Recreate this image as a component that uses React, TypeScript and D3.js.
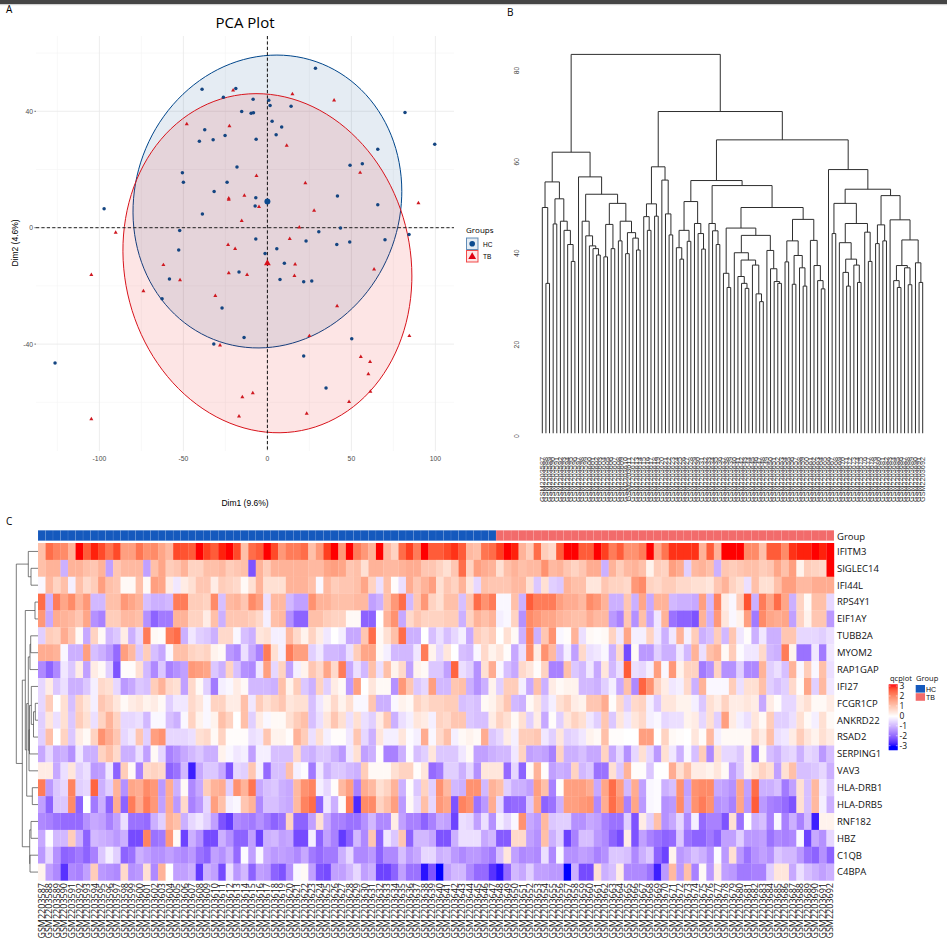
import * as d3 from 'd3';

// Panel A: PCA scores
const hcDim1 = [28.6,-38.9,-18.8,-26.2,-8.5,0.8,1.6,14.1,-15.3,-9.7,-8.3,2.8,8.5,-37.3,-25.2,-32.3,-40.5,-6.7,5.2,81.9,99.6,65.7,56.5,49.2,-18.1,-50.6,-50,-24,-31.7,-6.9,41.7,65.7,-7.3,-38.7,-97.2,-52.2,30.6,43.5,84.3,70,-6.9,23,49,41.3,5.6,-52.8,-1.4,10.1,-16.9,7.5,21.6,26.4,-58.3,-62.7,-27,-13.9,-31.9,50.2,21.6,34.9,-126.4];
const hcDim2 = [54.8,47.6,47.8,44.8,44.1,43.8,42,41.7,39.9,39.3,39.5,36.6,34.6,33.7,31.7,30.2,29.7,30.4,31.9,39.6,28.7,27,22,21.5,20.9,18.9,15.6,15.6,12.4,10.3,10.9,7.9,7.5,4.7,6.5,-1,-1.4,-0.1,-2.3,-4.1,-3.9,-4.6,-4.9,-5.8,-7.2,-7.7,-8.9,-12.2,-15.2,-17.8,-18.6,-18.3,-17.6,-24.4,-27.6,-37.7,-40,-38.2,-44.1,-55.1,-46.5];
const tbDim1 = [-20.4,14.9,39.7,-48,-22.6,11.5,55.2,-6.5,22.6,-13.7,-23,-23,-5,89.9,27.8,-15.3,19,-90.3,13.3,-23.4,-19.2,16.5,-61.9,63.5,-23,-12.1,-104.8,16.1,-52,-73.8,-31,41.5,25,84.5,-28.2,55.6,61.1,60.1,61.3,-8.7,-14.9,48.6,23.4,-16.9,-104.8];
const tbDim2 = [47.2,45.9,43.8,35.6,34.9,28.2,18.9,17.8,15.3,11,10.1,9.7,7.2,8.5,5.9,2.4,0.1,-1.7,-3.8,-5.9,-7.3,-12.6,-12.8,-14.3,-15.6,-16.2,-16.2,-16.5,-18,-21.8,-23.4,-26.9,-37.2,-37.2,-40.4,-44.4,-46.1,-50.3,-56.3,-56.8,-58.2,-59.8,-63.9,-64.8,-65.8];
const centroidHC = [0, 9];
const centroidTB = [0, -12.2];
// ellipse axes: [dim1 radius, dim2 shear, dim2 radius]
const ellipseHC = [80, 3.5, 50.2];
const ellipseTB = [86, -4.4, 58.1];
const pcaXTicks = [-100, -50, 0, 50, 100];
const pcaXMinor = [-125, -75, -25, 25, 75];
const pcaYTicks = [40, 0, -40];
const pcaYMinor = [60, 20, -20, -60];

// Panel B: sample tree, [height, left, right], L is a leaf
const L = null;
const treeA = [55.6, [50, L, [33.4, L, L]], [51.9, [46.4, L, L], [47, L, [45, L, [41.9, L, [38.2, L, L]]]]]];
const treeB = [56.7, L, [52.9, [47, L, [43.8, L, [41.6, L, [41, L, [39.6, L, L]]]]],
  [50.9, [46.3, [39.2, L, L], [41, L, L]], [47, [42.7, L, L], [44.5, [39.9, L, L], [43.3, L, [40.7, L, L]]]]]]];
const treeC = [58.9, [50.8, [48, L, [45, L, L]], [48.1, L, L]], [56, L, [48.6, L, [44, L, L]]]];
const treeD = [55.9,
  [51.3, [45, [41.2, L, [38.7, L, L]], [42.6, L, L]], [46.5, L, [44.3, L, [40.9, L, L]]]],
  [54.8, [46.5, L, [44.9, L, [41.9, L, L]]],
    [50,
      [45.5, [35.6, L, [32.5, L, L]],
        [43.9, [40.1, L, [38.5, [34.9, L, [33.4, L, [32.3, L, L]]], [37.4, L, [31.1, L, [29.4, L, L]]]]],
          [40.6, L, [36.6, L, [33.8, L, [33.4, L, L]]]]]],
      [47.4, [42.7, [38.1, L, L], [39.5, [33.2, L, L], [36.8, L, [32.8, L, L]]]],
        [42.8, L, [37.3, L, [34, L, [32.2, L, L]]]]]]]];
const treeE = [58.3, L, [54,
  [50.9, [44.3, L, L], [46.5, [42.3, L, [38.7, [35.8, L, [32.8, L, L]], [37.4, L, [33.6, L, L]]]], [44.6, L, [38.2, L, L]]]],
  [52.6, [46.2, [42.1, L, L], [42.7, L, L]],
    [47.3, L, [42.9, [37.3, [34, L, [32.5, L, L]], [36.8, L, [33.1, L, L]]], [37.9, L, [33.6, L, L]]]]]]];
const sampleTree = [83.5, [62.1, treeA, treeB], [71, treeC, [64.8, treeD, treeE]]];
const treeTicks = [0, 20, 40, 60, 80];

// Panel C: heatmap
const genes = ['IFITM3','SIGLEC14','IFI44L','RPS4Y1','EIF1AY','TUBB2A','MYOM2','RAP1GAP','IFI27','FCGR1CP','ANKRD22','RSAD2','SERPING1','VAV3','HLA-DRB1','HLA-DRB5','RNF182','HBZ','C1QB','C4BPA'];
const samples = d3.range(2203587, 2203693).map((n) => `GSM${n}`);
const hcCount = 61;

const ifitm3 = [1,2.2,1.9,1.8,1.2,3,2.4,2.9,2.6,2.1, 2.6,1.5,1.5,2.1,1.7,1.8,1.4,1.1,2.6,2.5, 2.4,3,2.7,2.4,2.9,3,2.6,1,2.2,2.4, 3,2.6,1.6,2,2,2.2,1,1.6,2.7,3,1.6, 3,2,1.6,1.2,3,1.1,.7,2.2,2.7,2, 3,2.4,2.4,2.6,2.8,2.4,1.1,1,2.1,2.2, 2.7,3,2.9,1.2,.8,2.2,.8,.6,2.4,3, 3,2.4,2.4,3,2.7,2,2.4,1.7,1.7, 2,3,1.4,2.1,2.8,2.8,2.8,2.8,1.2,2.4, 1.2,3,3,3,1.8,1.8,1,2.4,2.4,1.8, 2.8,2.9,2.9,3,2.9,3];
const siglec14 = [1,1.2,1.2,-1,1.2,1.2,1,.9,1.2,-1.2, .9,1.1,1.1,1.1,-1.2,1,1.4,.8,.9,1.2, .7,.7,1,1,1.1,.8,.9,1,-2.2,1.2, .8,1.2,1.2,1.2,1.2,1.2,1.1,1.1,1.4,1.5,1.4, .9,1,.5,1.2,1.2,1.1,1.1,1.2,1.3,1.3, .9,.9,.7,.5,.9,2.2,.7,1.5,1.3,1.2, .5,1,1.2,1,1.1,1.1,1.7,1.1,1.2,.9, .7,.9,1.3,1.3,-1,1.2,.8,1.1,1.2, 1,.2,.8,.7,1.5,1.3,-.6,1.1,1.2,1, -1,.9,.8,.9,1,1,.8,.9,1.4,1, 1.5,.2,.8,.7,.6,3];
const ifi44l = [-.1,1.1,.7,1,-.2,1,.6,.8,1.5,1, .9,.1,.1,1,.1,1.5,1.4,.3,-.3,.3, .5,.9,.9,.3,.8,.7,.6,.1,.5,1.2, .5,.5,.5,1.2,1.2,1.2,1,-.1,1.1,.8,.9, .9,1,1.4,.7,-.4,1,.05,-.4,1.3,.9, 1.2,1.5,.5,.9,.7,1.2,.4,-.5,1,.9, .9,.9,1.1,1.1,.5,-.7,.5,-.6,-.7,1.2, 1,1,.4,.4,.9,.7,.7,.6,1.6, 1.8,.7,.6,.8,.8,.6,.6,.5,.5,.4, .9,1.2,.7,.5,-.4,1,.5,.5,1,1.5, 1.5,1.1,1.1,1.3,1.3,1.3];
const rps4y1 = [2.2,-1,2,1.4,1.8,1.2,1.6,-.9,-.9,1, 1,1.6,1.4,1.2,-.8,-1,-1,-.9,2,2, .8,.8,.7,1.8,-.8,1.1,1.2,.9,1.8,1.5, -.4,1.1,1.1,-.9,-1.2,-1.2,1.7,1.2,1.2,1,1, 1,1.1,1.1,-1.2,-1,1,1.6,2.2,-.9,.9, 1.6,.7,.5,1,1,-.8,.9,2.2,1.7,2, -.1,-.1,1,-1,2.4,2,2,2,1.5,1.3, 1.3,1.1,1.8,1.6,1.2,-1,-1,.9,-1, 1.4,-1.1,1.2,1.2,-.9,-1,-1,-1.1,1.5,-.9, 1.9,.3,-.1,.8,2.5,-1,2,1.4,2.2,1.4, -1,.7,.1,1,1,-.5];
const eif1ay = [1.6,-1.1,1.3,1.2,1.1,.9,1.4,-1.4,-1.6,.8, .8,1.1,1.1,1,-1.4,-2,-1.7,-1.7,1.2,1.2, .7,.7,.3,1,-1,.9,.9,.9,.8,.6, -.2,1,1.1,-1.4,-2,-2,1,1,.8,.7,.7, .1,.1,-2,-2,0,1.2,1.7,-1.1,.6,.9, .7,.7,.7,.8,.8,-1,.7,1.2,1,1.2, -.2,-.1,.7,-1.4,1.8,1.6,1.4,1.4,1.2,1.1, 1,1,1.3,1.1,1.1,-1.3,-1.6,.9,-1.4, 1,-1.2,-.3,1.2,-1.8,-2,-2,-2.2,1.2,-1, 1.6,.4,-.1,.2,1.5,-1.7,1.8,1.4,1.3,1.4, -1.2,.7,.2,.9,.9,-1.3];
const tubb2a = [-.6,.8,.7,1.3,.9,.1,-1.1,.7,.1,-.9, -.7,.3,-1,-.5,2,.1,.05,2,2.2,-1, -.3,-.6,-.7,-1,.6,.6,-.1,-.8,-1,.4, .5,-.2,-.2,1.1,.6,.2,.7,.3,-.3,0,-.2, -1.1,-1.1,.9,2.2,.1,.5,1,2.2,-1,-1, 0,-.8,-.4,-.8,-.5,-.2,-1.1,.8,.6,.8, 0,.5,.1,-1,1.9,-1,.9,1.7,-.1,.05, 1.2,-.4,.1,.05,.1,.7,-.3,1.4,-.2, -.2,.7,-.3,-1,-.3,1.2,-.2,.8,-1,-.8, .8,-.9,.9,-.3,.05,-1,-.3,-1,-1,.9, .9,-.5,-.5,-.5,-.6,-.4];
const myom2 = [1.3,1.3,1.2,-.1,-1,-1,1.5,-.8,-1,-1.3, -1.9,1.5,1.1,-.7,.8,-.8,-1.1,-.1,1,1, .7,.6,.7,.2,.1,-1.3,-1.5,-.4,-1.1,-1.6, 2,.5,-.2,2,1.5,1.5,-.6,-.3,-.9,-.9,-1, -.4,.8,1.4,1.4,.1,-.2,-.9,-.9,-.9,-.3, 2,.2,-.5,.4,0,-.8,-.9,-.1,.6,.2, .4,.05,-1.1,-.4,1.8,.3,1.7,1.1,-.9,-.2, -1.2,.6,-.4,-.3,-.1,-1,.6,-2.3,.1, -1.3,-1.3,-.6,-1,-1,-.3,-.9,1.2,-.4,1, 1.2,.1,.8,-.05,-.3,-.3,.6,-.9,-1,2, .2,-1.8,-1.8,-.3,-1.7,-.3];
const rap1gap = [-1.5,-2,-1.5,-.3,-.7,.3,-1.2,.3,.1,-.6, -2.2,.05,.05,.5,-.9,-1.5,-.7,-1.6,-1.4,-1.2, 1.6,1.5,1.4,-.7,-1,.7,-.8,-1.4,-1.5,-.3, 1.5,-.5,.7,-1.2,-.2,.2,.9,.6,1.4,.6,2, -1.1,-.4,-.9,1,-.4,1,.2,.6,-1.2,.2, .1,-.7,-.7,-1.2,2.3,-.4,-.6,-1.4,.5,1.3, -.1,-.8,-1.1,.6,.4,.05,.7,-1.6,-1.6,1, -.7,-.9,-.3,-1.1,.4,-.9,-.4,2.4,-.4, -.5,-.2,1.5,-.1,1.6,.2,.7,.7,-1.7,-1.4, .7,-1.4,-1.4,-.6,-1.5,-1.5,1.2,-.6,-.4,-.8, 1.2,-.1,.8,-.1,1,-.4];
const ifi27 = [-.5,.3,-.7,-.4,-1,-1,-.7,-.2,.6,.5, -.5,-1.3,-1.1,-.7,-.8,.8,1.2,.6,.5,-1.2, .6,.1,-.6,-1.7,-.2,-.1,.3,.1,-.9,-.9, -.9,-1,1,.2,.8,-.7,-1,.7,-.6,.3,.1, -1.3,1.5,0,.4,.1,.1,-1.4,1.6,.9,-.7, -.5,1.5,-.9,-.9,.9,1,-1,-1.4,-1,.2, -.6,.8,.8,-.2,-1.1,1,-1,.3,.1,.2, .2,-.9,-.9,-1,-.6,-.2,-1.1,1,-1.5, 2.3,1.7,.7,.3,-.3,-.2,.6,-1,1.2,-.1, -.1,-.1,.8,-.4,.5,.5,1,-.6,-.8,-.6, .6,.05,1.4,-.6,1.1,-.3];
const fcgr1cp = [-.5,.8,0,.5,-.8,.7,.4,-.2,.9,.7, .4,.1,.3,.4,.2,.3,.1,-.6,-.3,-.3, .6,.4,-.1,.7,.7,.3,.3,1,-.3,.8, .5,.7,.9,.4,.5,.5,-.8,-.3,.2,.6,.2, .5,-.1,-.1,.9,-1,-1,-.1,.2,.1,.7, .5,.7,.7,.8,.8,-.8,-.7,-.8,.1,.2, .5,.9,-.9,-1,.1,.4,-.6,-.2,.5,.7, .3,.2,.9,.9,1.3,.05,.6,-.6,.6, .7,-.2,-.7,.4,.4,.2,.2,-.2,-.7,.5, .3,.7,.3,.3,.4,.3,-1.1,.3,.05,-.5, -.5,.3,.5,.1,.1,.3];
const ankrd22 = [-.6,.4,-.4,.5,-.7,.8,.5,-.4,.7,1.2, .7,-.5,-.5,-.4,-.9,-.1,-.1,-.8,-1,-.1, .7,.2,-.1,.2,1,.7,0,1,-.6,.3, -.1,.1,.1,.5,.8,1,-.8,-.4,.4,.9,.5, -.4,.5,-.4,-.6,.3,.9,-1,-.4,-.2,.4, .3,-.2,.7,.6,.9,.9,-.7,-.8,-.8,.3, .7,.5,.1,.5,-.6,.3,-1.1,.05,-.6,.4, .7,.5,-.3,-.6,.9,-.7,.4,-.3,.4, .6,-.2,-.1,-.5,-.4,-.4,.2,.3,-.5,.5, -.6,1.5,.3,-.2,-.4,.4,.1,.8,-.6,-.6, -.4,.5,.1,-.2,.5,.1];
const rsad2 = [-.6,1,0,.7,-.7,.3,.1,.7,1.7,1.3, .9,-.5,-.3,.9,-.6,1.5,1.7,-.5,-.5,-.5, -.4,.5,.6,.1,.7,.05,.05,.05,-.4,-.3, .9,.2,.2,.05,1.2,.8,-.4,.5,-.2,.05,.05, -.3,.9,-.5,-1,.4,-.2,-.2,.4,-.05,-.2, 1.3,-.1,.6,1,-.2,.1,.2,.1,1.3,-.7, -.5,.3,-.2,.8,.8,.9,-.3,-.6,.4,-.6, -.5,-.3,.2,.1,1,.05,.05,0,0, 1.5,1.5,0,.7,.1,.05,0,.4,.05,1.1, -.2,.1,.1,.1,.1,.6,.3,1,-.4,-.3, .3,.8,.4,.2,.5,.3];
const serping1 = [-1.1,-.5,-1.1,-1,-1.4,-.3,-1,-1,.7,1, .6,-1,-1,-.4,-1.2,.1,-.5,-1.6,-1.4,-1.1, -.9,-.7,-1,-1,.2,-.1,-.3,-.2,-1.2,-.2, -.2,-.8,-.8,-.8,.6,-.9,-1,-.7,-.7,-1,-1.3, -.3,.5,-1.2,-1,.05,-1.6,-1.6,-1,-.05,-.8, -.6,.4,-.7,-.7,-.7,-.3,.1,-1.2,-1.2,-1, -.9,-.9,-.3,.7,-1.2,-1.1,-1.2,-1.6,.7,-1, -1,-.8,-1.1,-1.1,.7,-1.1,-.5,-1.4,-.5, .5,-.5,-1.3,.5,-.3,-1,-.1,-.8,.8,-1.5, .5,-.5,-.5,-.7,.2,-1.9,.1,-.8,-1,-.6, -.5,-1,-.5,-.6,-1.3,-.8];
const vav3 = [.3,.3,-1.1,-.4,.4,-.6,-.4,-1.3,-1.2,-.3, -2,.8,.1,-1.6,.6,.7,.6,-2,-1.8,-.9, -2.8,-1.1,-.7,-.7,-1.1,-2.2,-.5,-.6,.9,-.2, -1.9,-.8,-.8,1,-.2,-.05,-1.7,-.3,-1,-.7,-.7, -.9,-1,.8,.1,.1,.1,.5,.7,.7,.05, .4,-1.9,-1.7,-.6,-.6,-1,-.5,-1.4,.4,.4, .4,-1.9,-.5,-2,.1,1.2,.05,-1.2,-1,-1.1, .7,-.9,-.7,-1.8,-1.8,.5,-.7,1.2,.05, .05,-.7,0,0,1.3,.5,1,.3,.3,.2, .4,.1,-1.2,-.7,.2,.4,.7,.5,-1.2,.5, 1,-.8,-.8,-.7,-.5,-1];
const hlaDrb1 = [2,-1.3,-.7,-.5,1.9,-.6,-.5,2.3,-1,-.6, 1.2,-1.4,1.4,1.3,1.8,1.6,-1.3,1.3,-1,.1, -1.5,-1.1,.8,1.2,1.3,-.6,1.7,1.2,2.1,-1.1, -.8,-.7,-1,-1.1,1.1,1.7,1.9,-.2,-.5,.05, 1.1,1.5,-1.6,1.3,1.1,.5,.7,1.2,-1,.05, -.7,.7,-.6,1.7,1.1,-.9,-1,1.7,1.7,-.9, 1.2,1,-.6,-1,-1,-1.2,1.5,1,-1.6,.05, 1.5,1.5,1.5,1.3,-1.1,1.4,2.2,1.5,-.9,1.3, -1.2,-.1,-.05,-1,-.8,1.7,-1.2,1.7,1.8,1.8, -1.1,-1.2,-1.4,1.4,-1.2,2.2,-1,-1,-.8,-1.7, -1.2,.5,-.8,1.1,-.3,-.7];
const hlaDrb5 = [-1.2,-2,-.7,-.7,1.8,-2,0,-1.7,-1,-2, 1.3,-2,2,1.3,2,1.6,-1.2,1.3,-1.3,.6, -1.6,-1.3,-.5,1.5,1,-.2,-.1,.9,1.2,-1.5, -.8,-.8,-1,-1.1,1.1,1.9,2.2,-2,-.3,-1, .05,2,-2.7,1.8,1.8,.7,1,1.5,-1.3,.1, -.5,1,-.5,1.6,1.4,-2.2,1.9,1.7,-1.8,-1.3, 1.3,-.5,-2,-1.9,-1.9,-.7,1.4,-2,-1.8,-1, 1.5,1.5,1.6,1.7,-1.5,1.3,2.2,1.7,-1.6,1.4, -1.3,-.1,-.05,-1.4,-1.3,1.8,-1.1,1.7,2,1.7, -1.4,-1.3,-1.6,1.4,-1.3,2.4,-1.3,-1.6,-1.7,-1.9, -2.2,.5,-.8,1.1,-.2,-1];
const rnf182 = [-1.5,-1.6,-1.8,-1.9,-1.9,-1.9,-1.4,-1.1,-1.2,-1.6, -1.2,-.4,-1.8,-1.8,-1.9,-1,-.6,1.2,1,-1, -.5,-.3,-.6,-1.2,-2.2,-2.5,-1.5,-1.6,-1.7,-1.4, -1.7,-2,-1.8,.7,-2,-2,-1.2,.5,-1.1,-1.6, -1.6,-1.8,-1.8,-1.4,-.9,-1.5,-1.5,.3,-1.2,-1.6, -1.6,-2,-1.6,-1.1,-1.2,-2.4,-.4,-.5,-1.2,-.4, -1.4,-.2,-.5,-.1,1.7,-1.1,-1.3,1.1,-.7,-.6, -.6,-1.4,-1.4,-1.1,-1.2,-1.6,-1.8,-1.8,-.6,-2.2, .3,-.6,1,-1.4,-1.1,-.5,-1.5,-.2,-1.9,-1.6, -1.6,-2.2,.5,-1.8,0,-1,-.8,-1.6,-.1,-1.6, -1,-1.6,-.9,-2.8,.2,.2];
const hbz = [-1.1,-.05,-.9,-.9,.8,-1,-2,-.9,-1,-1.1, -1.3,-1,-2.3,-2.3,1.9,-1.8,-1.7,1.6,.1,-2.4, -1,-1.4,-2.3,-2.3,-1,-1.4,-2,-2,-1.2,-2.4, -1,-.9,-1.2,-1.1,-2.3,-2.3,-.2,-2,-1.2,-1.6, -2.5,-2,-.9,-1.5,.9,-2,-.3,-.7,.9,-2, -.9,-.9,-1.1,-2.2,-2.2,-1,-.4,-.4,-.4,-1.1, -.9,-2.1,-2.1,.6,.6,-1.2,-1.4,1,-1,-.6, -2.4,-1.6,-.8,-.8,-1.3,-1.5,-2,-2.3,.3,-2.2, -1.2,-1.6,-1.8,-2,-1.9,-.7,-1.8,-2,-2,-1.7, -2,-1.2,-1.2,-.6,-1.3,-1.3,-1.2,-1.8,-1.5,-1.6, -1.5,-.1,-2.4,-1.1,-1.4,-.5];
const c1qb = [-1.3,-.5,-1.4,-2,-1.9,-1.7,-2,-1.6,-.7,-.2, -.6,-2,-1.8,-1,-1.2,-1.4,-1.4,-1.2,-1.4,-1.5, -1.3,-1.8,-2,-1.2,-1.4,-1,-1.9,-.05,-1.2,-.1, -1.1,-1.3,-1.2,-1.3,-1.5,-1.1,-1.7,-1.9,-1.7,-1.7, -1,-.5,-1.5,-1.5,-1.3,-2,-1.5,-1.5,-.8,-1.3, -1.1,-.5,-.5,-1,-.9,-1.3,-1.5,-1.3,-1.3,-1.5, -1.7,-.8,.4,-1.2,-1.5,-1.4,-1.5,-.4,-1.5,-.1, -1.4,-1.4,-1.2,-1.3,-1.6,-1.4,-.7,-.7,-.8,-1.5, -1,-.7,-2,-2.4,.2,-1.3,-1.1,-.8,-1,-1.4, -.05,-1.3,.5,-1.3,-1.8,-1.4,-1.2,-1.4,-.7,-.9, -.9,-1.3,-1.8,-2,-1.4,-2];
const c4bpa = [.2,-1.2,-1.5,-2.6,-1.5,-1.6,-1.2,.8,-1.3,-1.4, -1.5,.6,-1.4,-1.3,.5,-1.5,1.2,0,-1.2,-1.2, -1,-2.5,-1,-1.2,-2.3,-.4,-1.3,-.9,-2,-1.2, -1.3,-2,-2.2,-1.4,-.1,.1,-1.2,-2.2,-2.3,-1.2, -1.2,-.9,-.5,-1.2,-1,-2.4,-2.4,-2,-1.2,-1.8, -1.8,-2.9,-2.2,-3,-1.2,-.9,-.9,-1.5,-1.9,-1.9, -2.6,-2.9,-1.9,-.9,-1.1,-.6,-1.2,-1.2,-1.3,-1.3, -3,-1,-2.3,-2.3,.5,-1,-.8,.3,-1.5,-1.5, -1.5,-1.8,-2.8,-1.3,1.1,-1.3,1,-1.6,.1,-1.3, .3,-1.2,-1.3,-1.7,-1.7,-1.6,-1.6,-.6,.4,.4, -1.1,-.4,-.8,-1,-1.2,-1];
const heatRows = [ifitm3, siglec14, ifi44l, rps4y1, eif1ay, tubb2a, myom2, rap1gap, ifi27, fcgr1cp, ankrd22, rsad2, serping1, vav3, hlaDrb1, hlaDrb5, rnf182, hbz, c1qb, c4bpa];
const geneTree = [21.7,
  [9.7, L, [7, L, L]],
  [15.7,
    [12.7, [3, L, L],
      [11.3,
        [9.7, [8, [7.3, L, L], L], [9, [8.5, [6.7, L, [4.5, [2.7, L, L], L]], L], L]],
        [5.7, L, L]]],
    [8.3, [7, L, L], [8, L, L]]]];
const legendTicks = [3, 2, 1, 0, -1, -2, -3];

const sans = '"Liberation Sans", Arial, sans-serif';
const ui = '"Open Sans", sans-serif';
const blue = '#00468B';
const red = '#ED0000';

// Lays a nested [height, left, right] tree out: leaves get 0,1,2.. in order
function layoutTree(tree: any) {
  const root: any = d3.hierarchy(tree, (d: any) => (d ? d.slice(1) : null));
  root.leaves().forEach((leaf: any, i: number) => {
    leaf.pos = i;
  });
  root.eachAfter((n: any) => {
    if (n.children) n.pos = (n.children[0].pos + n.children[1].pos) / 2;
  });
  return root.descendants().filter((n: any) => n.children);
}

function ellipsePath(center: number[], axes: number[], x: any, y: any) {
  const line = d3
    .line<number>()
    .x((t) => x(center[0] + axes[0] * Math.cos(t)))
    .y((t) => y(center[1] + axes[1] * Math.cos(t) + axes[2] * Math.sin(t)))
    .curve(d3.curveLinearClosed);
  return line(d3.range(0, 2 * Math.PI, 0.05)) as string;
}

function PcaPanel() {
  const x = d3.scaleLinear().domain([0, 100]).range([267.4, 435.4]);
  const y = d3.scaleLinear().domain([0, 40]).range([227.7, 111.3]);
  const panel = { left: 36, right: 454, top: 36, bottom: 451 };
  const triangle = d3.symbol().type(d3.symbolTriangle).size(7)() as string;
  const bigTriangle = d3.symbol().type(d3.symbolTriangle).size(20)() as string;
  return (
    <g>
      <text x={6} y={13} fontFamily={ui} fontSize={10}>A</text>
      <text x={245} y={28} textAnchor="middle" fontFamily={ui} fontSize={15}>PCA Plot</text>
      {pcaXMinor.map((t) => <line key={t} x1={x(t)} x2={x(t)} y1={panel.top} y2={panel.bottom} stroke="#f3f3f3" strokeWidth={0.6} />)}
      {pcaYMinor.map((t) => <line key={t} x1={panel.left} x2={panel.right} y1={y(t)} y2={y(t)} stroke="#f3f3f3" strokeWidth={0.6} />)}
      {pcaXTicks.map((t) => <line key={t} x1={x(t)} x2={x(t)} y1={panel.top} y2={panel.bottom} stroke="#e8e8e8" strokeWidth={0.8} />)}
      {pcaYTicks.map((t) => <line key={t} x1={panel.left} x2={panel.right} y1={y(t)} y2={y(t)} stroke="#e8e8e8" strokeWidth={0.8} />)}
      <path d={ellipsePath(centroidHC, ellipseHC, x, y)} fill={blue} fillOpacity={0.1} stroke={blue} strokeWidth={1} />
      <path d={ellipsePath(centroidTB, ellipseTB, x, y)} fill={red} fillOpacity={0.1} stroke="#d8141c" strokeWidth={1} />
      <line x1={panel.left} x2={panel.right} y1={y(0)} y2={y(0)} stroke="#222" strokeDasharray="3.2 2.2" strokeWidth={1} />
      <line x1={x(0)} x2={x(0)} y1={panel.top} y2={panel.bottom} stroke="#111" strokeDasharray="3.2 2.2" strokeWidth={1} />
      {hcDim1.map((d, i) => <circle key={i} cx={x(d)} cy={y(hcDim2[i])} r={1.75} fill="#144581" />)}
      {tbDim1.map((d, i) => <path key={i} d={triangle} transform={`translate(${x(d)},${y(tbDim2[i])})`} fill="#cf1820" />)}
      <circle cx={x(centroidHC[0])} cy={y(centroidHC[1])} r={3} fill="#0b4a8e" />
      <path d={bigTriangle} transform={`translate(${x(centroidTB[0])},${y(centroidTB[1])})`} fill="#d8101a" />
      {pcaXTicks.map((t) => <text key={t} x={x(t)} y={461} textAnchor="middle" fontFamily={sans} fontSize={6.8} fill="#4d4d4d">{t}</text>)}
      {pcaYTicks.map((t) => (
        <g key={t}>
          <text x={33} y={y(t) + 2.4} textAnchor="end" fontFamily={sans} fontSize={6.8} fill="#4d4d4d">{t}</text>
          <line x1={34.4} x2={36} y1={y(t)} y2={y(t)} stroke="#333" strokeWidth={0.7} />
        </g>
      ))}
      <text x={245} y={506} textAnchor="middle" fontFamily={sans} fontSize={8.5}>Dim1 (9.6%)</text>
      <text transform="translate(18,243) rotate(-90)" textAnchor="middle" fontFamily={sans} fontSize={8.5}>Dim2 (4.6%)</text>
      <text x={466} y={233} fontFamily={ui} fontSize={8}>Groups</text>
      <rect x={466.5} y={238} width={11.5} height={11.5} fill={blue} fillOpacity={0.1} stroke={blue} strokeOpacity={0.6} />
      <circle cx={472.2} cy={243.8} r={2.8} fill="#0b4a8e" />
      <text x={483} y={246.5} fontFamily={sans} fontSize={6.5}>HC</text>
      <rect x={466.5} y={250.5} width={11.5} height={11.5} fill={red} fillOpacity={0.1} stroke={red} strokeOpacity={0.7} />
      <path d={bigTriangle} transform="translate(472.2,256.8) scale(1.15)" fill="#e00010" />
      <text x={483} y={259} fontFamily={sans} fontSize={6.5}>TB</text>
    </g>
  );
}

function SampleTreePanel() {
  const nodes = layoutTree(sampleTree);
  const x = d3.scaleLinear().domain([0, samples.length - 1]).range([542.3, 922.7]);
  const y = d3.scaleLinear().domain([0, 80]).range([436, 70.4]);
  const leafFloor = 0.6;
  const h = (n: any) => (n.children ? n.data[0] : leafFloor);
  const path = d3.path();
  nodes.forEach((n: any) => {
    const [a, b] = n.children;
    path.moveTo(x(a.pos), y(h(a)));
    path.lineTo(x(a.pos), y(n.data[0]));
    path.lineTo(x(b.pos), y(n.data[0]));
    path.lineTo(x(b.pos), y(h(b)));
  });
  return (
    <g>
      <text x={507} y={16} fontFamily={ui} fontSize={10}>B</text>
      {treeTicks.map((t) => (
        <text key={t} transform={`translate(519,${y(t)}) rotate(-90)`} textAnchor="middle" fontFamily={sans} fontSize={6.8} fill="#444">{t}</text>
      ))}
      <path d={path.toString()} fill="none" stroke="#2e2e2e" strokeWidth={1} />
      {samples.map((s, i) => (
        <text key={s} transform={`translate(${x(i) + 2.2},457) rotate(-90)`} textAnchor="end" fontFamily={sans} fontSize={7.3} fill="#444">{s}</text>
      ))}
    </g>
  );
}

function HeatmapPanel() {
  const x = d3.scaleBand<string>().domain(samples).range([38, 834]);
  const y = d3.scaleBand<string>().domain(genes).range([543, 880.5]);
  const color = d3
    .scaleLinear<string>()
    .domain([-3, 0, 3])
    .range(['#0000ff', '#ffffff', '#ff0000'])
    .interpolate(d3.interpolateLab);
  const legendY = d3.scaleLinear().domain([3, -3]).range([686, 745.7]);
  const groupFill = (i: number) => (i < hcCount ? '#1559bd' : '#f26b6b');
  const treeX = d3.scaleLinear().domain([0, 22]).range([38, 16]);
  const nodes = layoutTree(geneTree);
  const rowMid = (p: number) => 543 + y.bandwidth() * (p + 0.5);
  const treePath = d3.path();
  nodes.forEach((n: any) => {
    const [a, b] = n.children;
    const ax = a.children ? a.data[0] : 0;
    const bx = b.children ? b.data[0] : 0;
    treePath.moveTo(treeX(ax), rowMid(a.pos));
    treePath.lineTo(treeX(n.data[0]), rowMid(a.pos));
    treePath.lineTo(treeX(n.data[0]), rowMid(b.pos));
    treePath.lineTo(treeX(bx), rowMid(b.pos));
  });
  return (
    <g>
      <text x={6} y={525} fontFamily={ui} fontSize={10}>C</text>
      {samples.map((s, i) => (
        <rect key={s} x={x(s)} y={530.3} width={x.bandwidth()} height={10.4} fill={groupFill(i)} stroke="#fff" strokeOpacity={0.15} strokeWidth={0.5} />
      ))}
      <text x={837} y={539.5} fontFamily={ui} fontSize={9.5} fill="#111">Group</text>
      {genes.map((g, r) => (
        <g key={g}>
          {samples.map((s, c) => (
            <rect key={s} x={x(s)} y={y(g)} width={x.bandwidth() + 0.2} height={y.bandwidth() + 0.2} fill={color(heatRows[r][c])} />
          ))}
          <text x={837} y={(y(g) as number) + y.bandwidth() / 2 + 3.4} fontFamily={ui} fontSize={9.5} fill="#111">{g}</text>
        </g>
      ))}
      <path d={treePath.toString()} fill="none" stroke="#444" strokeWidth={0.7} />
      {samples.map((s) => (
        <text key={s} transform={`translate(${(x(s) as number) + x.bandwidth() / 2 + 3.2},883) rotate(-90)`} textAnchor="end" fontFamily={ui} fontSize={9} fill="#111">{s}</text>
      ))}
      <text x={890} y={681} fontFamily={ui} fontSize={7.5} fill="#111">qcplot</text>
      {d3.range(legendY.invert(684.3), legendY.invert(749), -0.1).map((v) => (
        <rect key={v} x={888.7} y={legendY(v)} width={9} height={legendY(v - 0.1) - legendY(v) + 0.3} fill={color(Math.max(-3, Math.min(3, v)))} />
      ))}
      {legendTicks.map((t) => (
        <g key={t}>
          <line x1={888.7} x2={890.5} y1={legendY(t)} y2={legendY(t)} stroke="#fff" strokeWidth={0.5} />
          <line x1={895.9} x2={897.7} y1={legendY(t)} y2={legendY(t)} stroke="#fff" strokeWidth={0.5} />
          <text x={899.5} y={legendY(t) + 3} fontFamily={ui} fontSize={8.5} fill="#111">{t}</text>
        </g>
      ))}
      <text x={916} y={681} fontFamily={ui} fontSize={7.5} fill="#111">Group</text>
      <rect x={915.7} y={685} width={9.3} height={7.6} fill="#1559bd" />
      <rect x={915.7} y={693.2} width={9.3} height={7.6} fill="#f26b6b" />
      <text x={926} y={691.5} fontFamily={sans} fontSize={7} fill="#111">HC</text>
      <text x={926} y={699.8} fontFamily={sans} fontSize={7} fill="#111">TB</text>
    </g>
  );
}

export default function App() {
  return (
    <svg width={947} height={949} style={{ position: 'absolute', left: 0, top: 0, display: 'block', background: '#fff' }}>
      <rect x={0} y={0} width={947} height={4.2} fill="#454545" />
      <rect x={0} y={4.2} width={947} height={1} fill="#cfcfcf" />
      <PcaPanel />
      <SampleTreePanel />
      <HeatmapPanel />
    </svg>
  );
}
